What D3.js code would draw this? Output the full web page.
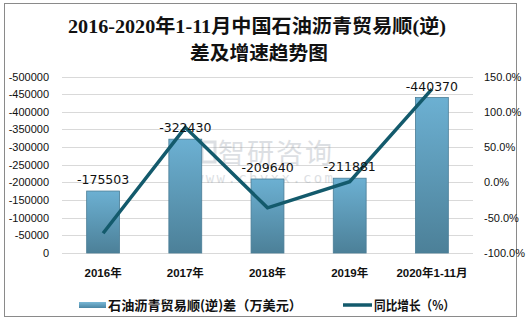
<!DOCTYPE html>
<html><head><meta charset="utf-8">
<script src="https://cdn.jsdelivr.net/npm/d3@7"></script>
<style>body{margin:0;background:#fff}svg{display:block}</style>
</head><body>
<script>
const categories = ["2016年","2017年","2018年","2019年","2020年1-11月"];
const tradeBalance = [-175503,-322430,-209640,-211881,-440370];
const growth = [-72, 78, -36, 1, 132];
const leftTicks = [0,-50000,-100000,-150000,-200000,-250000,-300000,-350000,-400000,-450000,-500000];
const rightTicks = [-100,-50,0,50,100,150];
const titleLines = ["2016-2020年1-11月中国石油沥青贸易顺(逆)","差及增速趋势图"];
const legendLabels = ["石油沥青贸易顺(逆)差（万美元）","同比增长（%）"];

const W=531,H=329;
const svg=d3.select("body").append("svg").attr("width",W).attr("height",H);
const defs=svg.append("defs");
const g1=defs.append("linearGradient").attr("id","bg").attr("x1",0).attr("y1",0).attr("x2",0).attr("y2",1);
g1.append("stop").attr("offset","0%").attr("stop-color","#6cb0d2");
g1.append("stop").attr("offset","100%").attr("stop-color","#4c8098");
const g2=defs.append("linearGradient").attr("id","lg").attr("x1",0).attr("y1",0).attr("x2",0).attr("y2",1);
g2.append("stop").attr("offset","0%").attr("stop-color","#7ab8d6");
g2.append("stop").attr("offset","100%").attr("stop-color","#4a86a4");

svg.append("rect").attr("x",4.5).attr("y",3.5).attr("width",512).attr("height",313)
  .attr("fill","#fff").attr("stroke","#8a8a8a").attr("stroke-width",1);

const title=svg.append("text").attr("text-anchor","middle")
  .attr("font-family","'Liberation Serif','Noto Sans CJK SC',serif").attr("font-weight","bold")
  .attr("font-size",19).attr("fill","#111");
title.append("tspan").attr("x",257).attr("y",33).attr("textLength",378).attr("lengthAdjust","spacingAndGlyphs").text(titleLines[0]);
title.append("tspan").attr("x",259).attr("y",60).attr("textLength",138).attr("lengthAdjust","spacingAndGlyphs").text(titleLines[1]);

const x=d3.scaleBand().domain(categories).range([62,473]).paddingInner(0.6).paddingOuter(0.3);
const y=d3.scaleLinear().domain([0,500000]).range([253,76.5]);
const y2=d3.scaleLinear().domain([-100,150]).range([253,76.5]);

// gridlines
svg.append("g").selectAll("line").data(leftTicks).join("line")
  .attr("x1",62).attr("x2",473).attr("y1",d=>Math.round(y(-d))+0.5).attr("y2",d=>Math.round(y(-d))+0.5)
  .attr("stroke","#d9d9d9");

const font="'Liberation Sans','Noto Sans CJK SC',sans-serif";
// left axis
const la=svg.append("g").attr("transform","translate(56,0)")
  .call(d3.axisLeft(d3.scaleLinear().domain([0,-500000]).range([253,76.5])).tickValues(leftTicks).tickSize(0).tickPadding(7).tickFormat(d=>d===0?"0":String(d)));
la.select(".domain").remove();
la.selectAll("text").attr("font-family",font).attr("font-size",11).attr("fill","#111");
// right axis
const ra=svg.append("g").attr("transform","translate(478,0)")
  .call(d3.axisRight(y2).tickValues(rightTicks).tickSize(0).tickPadding(6).tickFormat(d=>d.toFixed(1)+"%"));
ra.select(".domain").remove();
ra.selectAll("text").attr("font-family",font).attr("font-size",11).attr("fill","#111");
// bottom axis
const ba=svg.append("g").attr("transform","translate(0,264)")
  .call(d3.axisBottom(x).tickSize(0).tickPadding(5));
ba.select(".domain").remove();
ba.selectAll("text").attr("font-family",font).attr("font-size",11.5).attr("font-weight","bold").attr("fill","#111");

// watermark
const wm=svg.append("g").attr("opacity",0.3);
wm.append("rect").attr("x",202).attr("y",142).attr("width",13).attr("height",20).attr("fill","none").attr("stroke","#8f99a4").attr("stroke-width",3);
wm.append("text").attr("x",218).attr("y",163).attr("font-family","'Noto Sans CJK SC',sans-serif").attr("font-size",27).attr("fill","#8f99a4").attr("textLength",114).text("智研咨询");
wm.append("text").attr("x",195).attr("y",183).attr("font-family","'DejaVu Sans Mono',monospace").attr("font-size",14).attr("fill","#8f99a4").attr("textLength",138).text("www.chyxx.com");

// bars
svg.append("g").selectAll("rect").data(categories).join("rect")
  .attr("x",d=>x(d)).attr("width",x.bandwidth())
  .attr("y",(d,i)=>y(-tradeBalance[i])).attr("height",(d,i)=>y(0)-y(-tradeBalance[i]))
  .attr("fill","url(#bg)").attr("stroke","#4a7d96").attr("stroke-width",0.8);

// line
const line=d3.line().x((d,i)=>x(categories[i])+x.bandwidth()/2).y(d=>y2(d));
svg.append("path").datum(growth).attr("d",line).attr("fill","none")
  .attr("stroke","#135a6c").attr("stroke-width",3.5).attr("stroke-linejoin","miter");

// labels
svg.append("g").selectAll("text").data(categories).join("text")
  .attr("x",d=>x(d)+x.bandwidth()/2).attr("y",(d,i)=>y(-tradeBalance[i])-7)
  .attr("text-anchor","middle").attr("font-family","'DejaVu Sans',sans-serif").attr("font-size",12.5).attr("fill","#111")
  .text((d,i)=>String(tradeBalance[i]));

// legend
const lg=svg.append("g").attr("font-family","'Noto Sans CJK SC',sans-serif").attr("font-weight","bold").attr("font-size",13).attr("fill","#111");
lg.append("rect").attr("x",79).attr("y",302).attr("width",27).attr("height",6).attr("fill","url(#lg)");
lg.append("text").attr("x",108).attr("y",310).attr("textLength",194).attr("lengthAdjust","spacingAndGlyphs").text(legendLabels[0]);
lg.append("line").attr("x1",343).attr("x2",372).attr("y1",305).attr("y2",305).attr("stroke","#135a6c").attr("stroke-width",3.5);
lg.append("text").attr("x",374).attr("y",310).attr("textLength",81).attr("lengthAdjust","spacingAndGlyphs").text(legendLabels[1]);
</script>
</body></html>
